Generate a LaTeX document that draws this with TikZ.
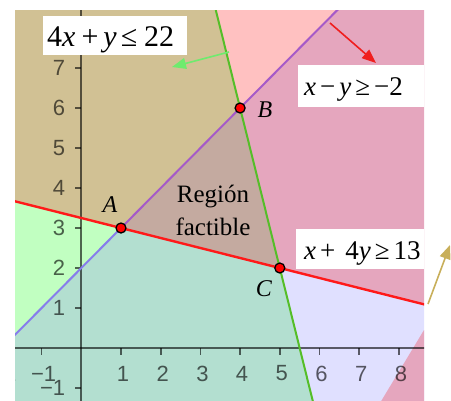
\documentclass[tikz,border=0pt]{standalone}
\usepackage{fontspec}
\setmainfont{Liberation Serif}
\newfontfamily\axisfont{Liberation Sans}
\usetikzlibrary{arrows.meta}
\definecolor{ckhaki}{RGB}{209,193,148}
\definecolor{clpink}{RGB}{255,193,193}
\definecolor{cdpink}{RGB}{229,166,190}
\definecolor{cfeas}{RGB}{196,170,160}
\definecolor{clgreen}{RGB}{193,255,193}
\definecolor{cteal}{RGB}{179,223,208}
\definecolor{clav}{RGB}{224,224,255}
\definecolor{linepurple}{RGB}{165,90,200}
\definecolor{lineblue}{RGB}{135,125,235}
\definecolor{linegreen}{RGB}{85,190,40}
\definecolor{linered}{RGB}{255,25,25}
\definecolor{arrgreen}{RGB}{110,235,110}
\definecolor{arrred}{RGB}{240,30,30}
\definecolor{arrtan}{RGB}{200,175,90}
\begin{document}
\begin{tikzpicture}[x=1pt,y=-1pt,
  axisline/.style={draw=black,draw opacity=0.6,line width=2pt},
  tickmark/.style={draw=black,draw opacity=0.6,line width=1.6pt},
  ticklab/.style={font=\axisfont\fontsize{22}{22}\selectfont,text=black,text opacity=0.62,inner sep=0pt},
  bound/.style={line width=2pt},
  vertex/.style={circle,fill=red,draw=black,line width=1.3pt,minimum size=10pt,inner sep=0pt},
  ptlab/.style={font=\fontsize{24}{24}\selectfont\itshape,inner sep=0pt},
  ineq/.style={anchor=base west,inner sep=0pt},
  regtext/.style={font=\fontsize{25}{25}\selectfont,anchor=base,inner sep=0pt},
  hint/.style={-{Triangle[length=14pt,width=11pt]},line width=1.6pt}]
\useasboundingbox (0,0) rectangle (451,400);
\begin{scope}
\clip (15,10) rectangle (424,400);
\begin{scope}[shift={(81.3,348)},x=39.7pt,y=40pt]
  \coordinate (A) at (1,3);
  \coordinate (B) at (4,6);
  \coordinate (C) at (5,2);
  \coordinate (Pl) at (-2,0);
  \coordinate (Pt) at (7,9);
  \coordinate (Gt) at (3.25,9);
  \coordinate (Gb) at (6,-2);
  \coordinate (Rl) at (-2,3.75);
  \coordinate (Rr) at (9,1);
  \coordinate (TL) at (-2,9);
  \coordinate (TR) at (9,9);
  \coordinate (BR) at (9,-2);
  \coordinate (BL) at (-2,-2);
  % regions
  \fill[ckhaki] (TL) -- (Gt) -- (B) -- (A) -- (Rl) -- cycle;
  \fill[clpink] (Gt) -- (Pt) -- (B) -- cycle;
  \fill[cdpink] (Pt) -- (TR) -- (Rr) -- (C) -- (B) -- cycle;
  \fill[cfeas] (A) -- (B) -- (C) -- cycle;
  \fill[clgreen] (Rl) -- (A) -- (Pl) -- cycle;
  \fill[cteal] (Pl) -- (A) -- (C) -- (Gb) -- (BL) -- cycle;
  \fill[clav] (C) -- (Rr) -- (BR) -- (Gb) -- cycle;
\end{scope}
  \fill[cdpink] (424,330) -- (380,403) -- (430,403) -- (430,330) -- cycle;
\begin{scope}[shift={(81.3,348)},x=39.7pt,y=40pt]
  % axes
  \draw[axisline] (-2,0) -- (9,0);
  \draw[axisline] (0,-2) -- (0,9);
  \foreach \k in {-2,-1,1,2,3,4,5,6,7,8}{
    \draw[tickmark] (\k,0) -- ++(0,-7pt);
    \node[ticklab,yshift=-25.5pt,xshift=2pt] (xl\k) at (\k,0) {\ifnum\k<0 −\the\numexpr-\k\relax\else\k\fi};
  }
  \foreach \k in {-1,1,2,3,4,5,6,7,8}{
    \draw[tickmark] (0,\k) -- ++(-6.5pt,0);
    \node[ticklab,anchor=east,xshift=-16pt] (yl\k) at (0,\k) {\ifnum\k<0 −\the\numexpr-\k\relax\else\k\fi};
  }
  % boundary lines
  \draw[bound,lineblue] (Pl) -- (A);
  \draw[bound,linepurple] (A) -- (Pt);
  \draw[bound,linered,line width=2.4pt] (Rl) -- (Rr);
  \draw[bound,linegreen] (Gt) -- (Gb);
  % vertices
  \node[vertex] (vA) at (A) {};
  \node[vertex] (vB) at (B) {};
  \node[vertex] (vC) at (C) {};
\end{scope}
\end{scope}
% vertex labels
\node[ptlab] (lA) at (110,205) {A};
\node[ptlab] (lB) at (265,110) {B};
\node[ptlab] (lC) at (264,289) {C};
% region label
\node[regtext] (reg1) at (213,202) {Región};
\node[regtext] (reg2) at (213,235) {factible};
% inequality boxes
\fill[white] (43,16) rectangle (187,55);
\node[ineq,font=\fontsize{30}{30}\selectfont] (q1) at (47,46)
  {4\textit{x}\hspace{6pt}+\hspace{5pt}\textit{y}\hspace{4pt}≤\hspace{7pt}22};
\fill[white] (298,65) rectangle (424,107);
\node[ineq,font=\fontsize{27}{27}\selectfont] (q2) at (304,95)
  {\textit{x}\hspace{4pt}−\hspace{4pt}\textit{y}\hspace{4pt}≥\hspace{4pt}−2};
\fill[white] (296,229) rectangle (424,269);
\node[ineq,font=\fontsize{27}{27}\selectfont] (q3) at (304,259)
  {\textit{x}\hspace{4pt}+\hspace{10pt}4\textit{y}\hspace{4pt}≥\hspace{4pt}13};
% direction arrows
\coordinate (g0) at (229,52);
\coordinate (g1) at (172,67);
\coordinate (r0) at (330,23);
\coordinate (r1) at (376,63);
\coordinate (t0) at (428,304);
\coordinate (t1) at (450,245);
\draw[hint,arrgreen] (g0) -- (g1);
\draw[hint,arrred] (r0) -- (r1);
\draw[hint,arrtan] (t0) -- (t1);
\end{tikzpicture}
\end{document}
